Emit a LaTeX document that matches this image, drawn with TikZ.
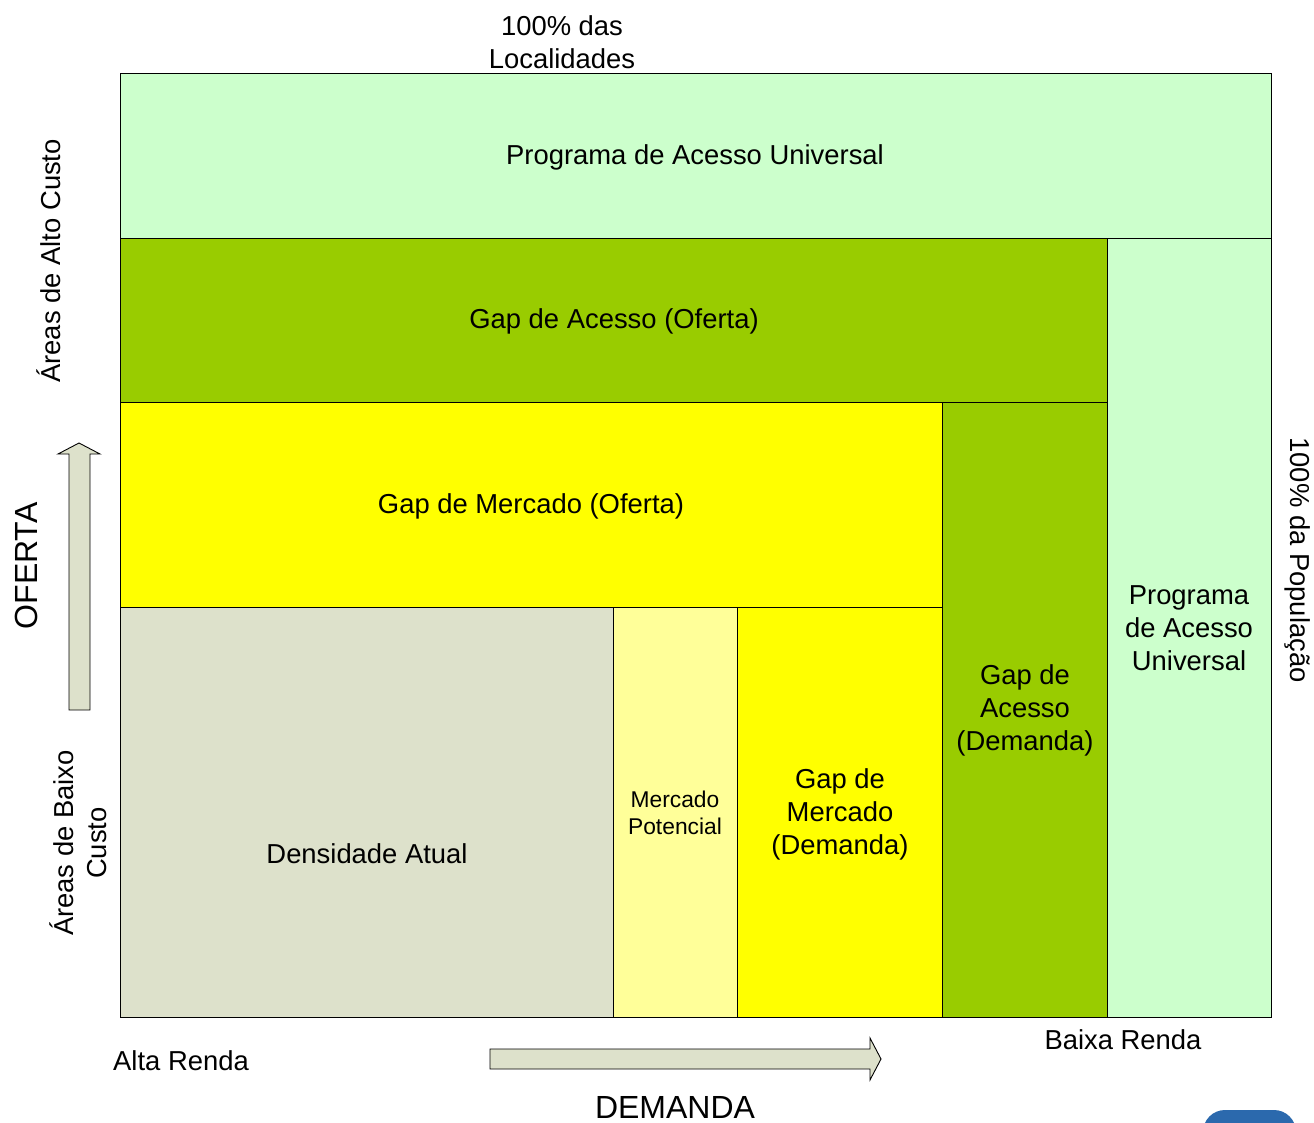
\documentclass[tikz,border=0pt]{standalone}
\usepackage{fontspec}
\setmainfont{Liberation Sans}
\definecolor{lgreen}{HTML}{CCFFCC}
\definecolor{dgreen}{HTML}{99CC00}
\definecolor{yel}{HTML}{FFFF00}
\definecolor{lyel}{HTML}{FFFF99}
\definecolor{grayg}{HTML}{DDE1CB}
\definecolor{bluebtn}{HTML}{2B69AD}
\begin{document}
\begin{tikzpicture}[x=1pt,y=-1pt,
  cell/.style={draw=black, line width=0.9pt, inner sep=0pt, align=center,
    font=\fontsize{27.4}{33}\selectfont},
  lbl/.style={inner sep=0pt, align=center, font=\fontsize{27.4}{33}\selectfont},
  big/.style={inner sep=0pt, align=center, font=\fontsize{32}{38}\selectfont},
  arr/.style={draw=black, line width=0.9pt, fill=grayg}]
\useasboundingbox (0,0) rectangle (1314,1123);
% cells
\node[cell, fill=lgreen, minimum width=1151, minimum height=165] (pauTop) at (695.5,155.5) {};
\node[lbl] (pauTopT) at (695,157) {Programa de Acesso Universal};
\node[cell, fill=lgreen, minimum width=164, minimum height=779] (pauRight) at (1189,627.5) {};
\node[lbl] (pauRightT) at (1189,628) {Programa\\de Acesso\\Universal};
\node[cell, fill=dgreen, minimum width=987, minimum height=164] (gao) at (613.5,320) {};
\node[lbl] (gaoT) at (614,321) {Gap de Acesso (Oferta)};
\node[cell, fill=dgreen, minimum width=165, minimum height=615] (gad) at (1024.5,709.5) {};
\node[lbl] (gadT) at (1025,710) {Gap de\\Acesso\\(Demanda)};
\node[cell, fill=yel, minimum width=822, minimum height=205] (gmo) at (531,504.5) {};
\node[lbl] (gmoT) at (531,506) {Gap de Mercado (Oferta)};
\node[cell, fill=yel, minimum width=205, minimum height=410] (gmd) at (839.5,812) {};
\node[lbl] (gmdT) at (840,814) {Gap de\\Mercado\\(Demanda)};
\node[cell, fill=lyel, minimum width=124, minimum height=410] (mp) at (675,812) {};
\node[inner sep=0pt, align=center, font=\fontsize{22.8}{27}\selectfont] (mpT) at (675,813) {Mercado\\Potencial};
\node[cell, fill=grayg, minimum width=493, minimum height=410] (da) at (366.5,812) {};
\node[lbl] (daT) at (367,854) {Densidade Atual};
% outer labels
\node[lbl] (loc) at (562,42) {100\% das\\Localidades};
\node[lbl, rotate=-90] (pop) at (1298,560) {100\% da População};
\node[lbl, rotate=90] (alto) at (49,261) {Áreas de Alto Custo};
\node[big, rotate=90] (oferta) at (26,566) {OFERTA};
\node[lbl, rotate=90] (baixo) at (78,843) {Áreas de Baixo\\Custo};
\node[lbl] (alta) at (181,1061) {Alta Renda};
\node[lbl] (baixa) at (1123,1040) {Baixa Renda};
\node[big] (dem) at (675,1107) {DEMANDA};
% arrows
\draw[arr] (69,710) -- (69,454) -- (58,454) -- (79,443) -- (100,454) -- (90,454) -- (90,710) -- cycle;
\draw[arr] (490,1049) -- (870,1049) -- (870,1038) -- (881,1059) -- (870,1080) -- (870,1069) -- (490,1069) -- cycle;
% partial button at bottom right
\begin{scope}
\clip (0,0) rectangle (1314,1123);
\fill[bluebtn, rounded corners=22] (1203,1110) rectangle (1296,1160);
\end{scope}
\end{tikzpicture}
\end{document}
